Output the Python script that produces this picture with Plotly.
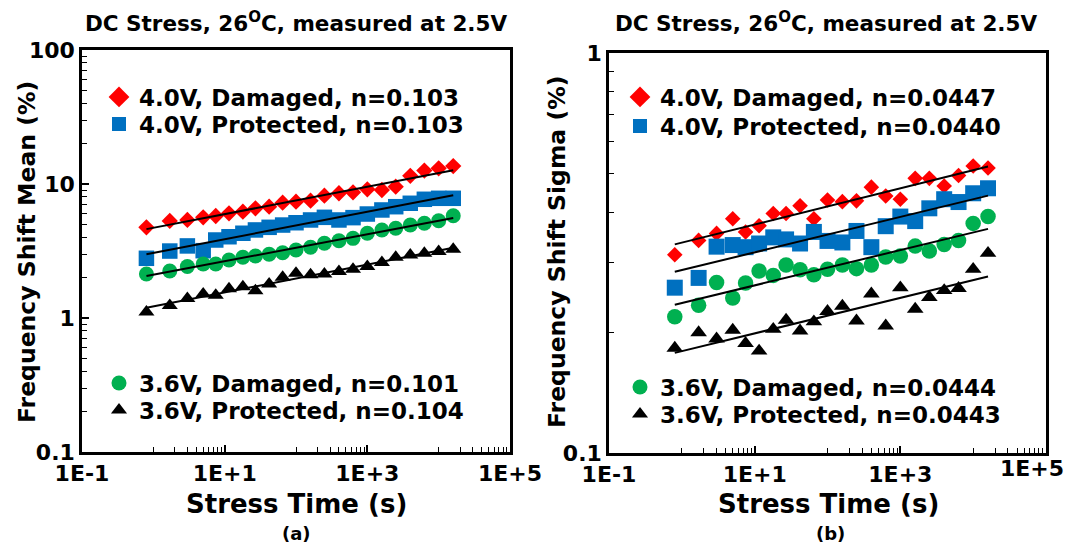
import numpy as np
import plotly.graph_objects as go

# ---------------- data ----------------
times = [0.8, 1.7, 3, 5, 7.5, 11.5, 18, 27, 42, 65, 100, 160, 250, 400,
         630, 1000, 1600, 2500, 4000, 6300, 10000, 16000]

# (a) Frequency shift mean (%)
mean_40_damaged = [4.75, 5.30, 5.39, 5.64, 5.77, 6.04, 6.21, 6.58, 6.77, 7.25, 7.38,
                   7.50, 8.18, 8.53, 8.67, 9.13, 9.02, 9.55, 11.5, 12.6, 13.1, 13.6]
mean_40_protected = [2.79, 3.16, 3.45, 3.18, 3.82, 4.04, 4.29, 4.54, 4.75, 4.94, 5.14,
                     5.39, 5.64, 5.39, 5.61, 5.97, 6.40, 6.77, 7.18, 7.69, 7.82, 7.82]
mean_36_damaged = [2.13, 2.24, 2.42, 2.53, 2.53, 2.71, 2.84, 2.90, 2.99, 3.07, 3.22,
                   3.37, 3.61, 3.77, 3.93, 4.29, 4.54, 4.67, 4.94, 5.09, 5.32, 5.80]
mean_36_protected = [1.11, 1.24, 1.40, 1.51, 1.48, 1.65, 1.71, 1.60, 1.79, 2.01, 2.16,
                     2.10, 2.13, 2.22, 2.31, 2.42, 2.59, 2.84, 2.95, 3.04, 3.13, 3.26]

# (b) Frequency shift sigma (%)
sigma_40_damaged = [0.313, 0.340, 0.354, 0.385, 0.357, 0.370, 0.397, 0.397, 0.415, 0.385, 0.429,
                    0.425, 0.427, 0.462, 0.439, 0.431, 0.486, 0.486, 0.465, 0.494, 0.522, 0.516]
sigma_40_protected = [0.259, 0.274, 0.328, 0.331, 0.327, 0.334, 0.346, 0.342, 0.334, 0.357, 0.339,
                      0.336, 0.359, 0.327, 0.369, 0.390, 0.380, 0.409, 0.431, 0.424, 0.446, 0.459]
sigma_36_damaged = [0.219, 0.234, 0.267, 0.244, 0.266, 0.285, 0.278, 0.295, 0.287, 0.279, 0.288,
                    0.295, 0.289, 0.295, 0.309, 0.311, 0.329, 0.320, 0.332, 0.340, 0.375, 0.390]
sigma_36_protected = [0.183, 0.200, 0.193, 0.203, 0.188, 0.180, 0.204, 0.215, 0.202, 0.213, 0.226,
                      0.233, 0.214, 0.250, 0.208, 0.259, 0.229, 0.245, 0.255, 0.258, 0.288, 0.316]

labels_a = ["4.0V, Damaged, n=0.103", "4.0V, Protected, n=0.103",
            "3.6V, Damaged, n=0.101", "3.6V, Protected, n=0.104"]
labels_b = ["4.0V, Damaged, n=0.0447", "4.0V, Protected, n=0.0440",
            "3.6V, Damaged, n=0.0444", "3.6V, Protected, n=0.0443"]

x_tickvals = [0.1, 10, 1000, 100000]
x_ticktext = ["1E-1", "1E+1", "1E+3", "1E+5"]
ya_tickvals = [0.1, 1, 10, 100]
ya_ticktext = ["0.1", "1", "10", "100"]
yb_tickvals = [0.1, 1]
yb_ticktext = ["0.1", "1"]

title_text = "DC Stress, 26<sup>O</sup>C, measured at 2.5V"

# ---------------- styling ----------------
W, H = 1076, 552
FONT = "DejaVu Sans"
colors = ["#FF0000", "#0070C0", "#00B050", "#000000"]
symbols = ["diamond", "square", "circle", "triangle-up"]
data_sizes_a = [12.5, 15.5, 15, 14]
data_sizes_b = [12, 16, 15.5, 14.5]
legend_sizes = [16, 14, 15, 14]


def px_x(p):
    return p / W


def px_y(p):
    return 1 - p / H


fig = go.Figure()

panels = [
    dict(xa="x", ya="y", series=[mean_40_damaged, mean_40_protected, mean_36_damaged, mean_36_protected],
         labels=labels_a, sizes=data_sizes_a, leg_x=99, leg_y=[97, 124, 383, 410], lid=1),
    dict(xa="x2", ya="y2", series=[sigma_40_damaged, sigma_40_protected, sigma_36_damaged, sigma_36_protected],
         labels=labels_b, sizes=data_sizes_b, leg_x=620, leg_y=[97, 126, 387, 414], lid=5),
]

for p in panels:
    for i, vals in enumerate(p["series"]):
        fig.add_trace(go.Scatter(
            x=times, y=vals, mode="markers", xaxis=p["xa"], yaxis=p["ya"],
            marker=dict(symbol=symbols[i], size=p["sizes"][i], color=colors[i], line=dict(width=0)),
            showlegend=False, hoverinfo="skip"))
        # power-law fit line computed from the data (log-log least squares)
        lt = np.log10(times)
        lv = np.log10(vals)
        slope, icpt = np.polyfit(lt, lv, 1)
        xf = np.array([times[0], times[-1]])
        yf = 10 ** (icpt + slope * np.log10(xf))
        fig.add_trace(go.Scatter(
            x=xf, y=yf, mode="lines", xaxis=p["xa"], yaxis=p["ya"],
            line=dict(color="black", width=2), showlegend=False, hoverinfo="skip"))
    for i, lab in enumerate(p["labels"]):
        lname = "legend" if p["lid"] + i == 1 else f"legend{p['lid'] + i}"
        fig.add_trace(go.Scatter(
            x=[None], y=[None], mode="markers", name=lab, xaxis=p["xa"], yaxis=p["ya"],
            marker=dict(symbol=symbols[i], size=legend_sizes[i], color=colors[i], line=dict(width=0)),
            legend=lname, showlegend=True))
        fig.update_layout(**{lname: dict(
            x=px_x(p["leg_x"]), y=px_y(p["leg_y"][i]), xanchor="left", yanchor="middle",
            bgcolor="rgba(0,0,0,0)", borderwidth=0, itemwidth=30,
            font=dict(family=FONT, size=23, color="black", weight="bold"))})

axis_common = dict(
    type="log", showline=True, linecolor="black", linewidth=2.5, mirror=True, automargin=False,
    showgrid=False, zeroline=False, ticks="inside", ticklen=7, tickwidth=1.5, tickcolor="black",
    tickfont=dict(family=FONT, size=22, color="black", weight="bold"),
    tickmode="array",
)

minor_x = [v * m for v in (1, 100, 10000) for m in range(1, 10)]
minor_y_a = [v * m for v in (0.1, 1, 10) for m in range(2, 10)]
minor_y_b = [0.1 * m for m in range(2, 10)]

fig.update_layout(
    width=W, height=H, margin=dict(l=0, r=0, t=0, b=0, autoexpand=False),
    paper_bgcolor="white", plot_bgcolor="white",
    font=dict(family=FONT, color="black", weight="bold"),
    xaxis=dict(axis_common, domain=[px_x(82), px_x(510)], range=[-1, 5], anchor="y",
               tickvals=x_tickvals, ticktext=x_ticktext,
               minor=dict(tickmode="array", tickvals=minor_x, ticks="inside", ticklen=5,
                          tickwidth=1.2, tickcolor="black")),
    yaxis=dict(axis_common, domain=[px_y(452), px_y(50)], range=[-1, 2], anchor="x",
               tickvals=ya_tickvals, ticktext=ya_ticktext,
               minor=dict(tickmode="array", tickvals=minor_y_a, ticks="inside", ticklen=5,
                          tickwidth=1.2, tickcolor="black")),
    # last label of panel (b) would be clipped at the page edge; drawn as annotation below
    xaxis2=dict(axis_common, domain=[px_x(609), px_x(1046)], range=[-1, 5], anchor="y2",
                tickvals=x_tickvals, ticktext=x_ticktext[:-1] + [""],
                minor=dict(tickmode="array", tickvals=minor_x, ticks="inside", ticklen=5,
                           tickwidth=1.2, tickcolor="black")),
    yaxis2=dict(axis_common, domain=[px_y(453), px_y(53)], range=[-1, 0], anchor="x2",
                tickvals=yb_tickvals, ticktext=yb_ticktext,
                minor=dict(tickmode="array", tickvals=minor_y_b, ticks="inside", ticklen=5,
                           tickwidth=1.2, tickcolor="black")),
)

ann = []
# titles
for cx in (296, 826):
    ann.append(dict(text=title_text, x=px_x(cx), y=px_y(22), xref="paper", yref="paper",
                    showarrow=False, xanchor="center", yanchor="middle",
                    font=dict(family=FONT, size=21.5, color="black", weight="bold")))
# x axis titles
for cx in (296, 828):
    ann.append(dict(text="Stress Time (s)", x=px_x(cx), y=px_y(504), xref="paper", yref="paper",
                    showarrow=False, xanchor="center", yanchor="middle",
                    font=dict(family=FONT, size=26, color="black", weight="bold")))
# panel labels
for cx, t in ((297, "(a)"), (830, "(b)")):
    ann.append(dict(text=t, x=px_x(cx), y=px_y(533), xref="paper", yref="paper",
                    showarrow=False, xanchor="center", yanchor="middle",
                    font=dict(family=FONT, size=18, color="black", weight="bold")))
# y axis titles
for cx, t in ((27, "Frequency Shift Mean (%)"), (557, "Frequency Shift Sigma (%)")):
    ann.append(dict(text=t, x=px_x(cx), y=px_y(252), xref="paper", yref="paper",
                    showarrow=False, xanchor="center", yanchor="middle", textangle=-90,
                    font=dict(family=FONT, size=23.5, color="black", weight="bold")))
# last x tick label of panel (b)
ann.append(dict(text=x_ticktext[-1], x=np.log10(x_tickvals[-1]), xref="x2", y=px_y(468), yref="paper",
                showarrow=False, xanchor="right", yanchor="middle", xshift=20,
                font=dict(family=FONT, size=22, color="black", weight="bold")))
fig.update_layout(annotations=ann)

fig.write_html("out.html")
